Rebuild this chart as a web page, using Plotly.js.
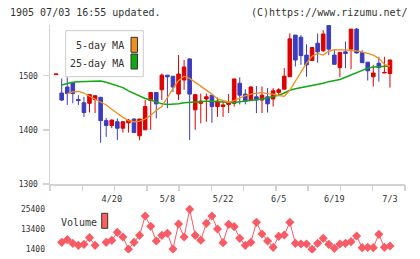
<!DOCTYPE html>
<html>
<head>
<meta charset="utf-8">
<script src="https://cdn.plot.ly/plotly-3.0.1.min.js"></script>
<style>
  html, body { margin: 0; padding: 0; background: #fff; }
  #chart { width: 420px; height: 259px; }
</style>
</head>
<body>
<div id="chart"></div>
<script>
// Trading days (2020), daily OHLC, moving averages and volume for 1905
const dates = ['4/6','4/7','4/8','4/9','4/10','4/13','4/14','4/15','4/16','4/17',
  '4/20','4/21','4/22','4/23','4/24','4/27','4/28','4/30','5/1','5/7',
  '5/8','5/11','5/12','5/13','5/14','5/15','5/18','5/19','5/20','5/21',
  '5/22','5/25','5/26','5/27','5/28','5/29','6/1','6/2','6/3','6/4',
  '6/5','6/8','6/9','6/10','6/11','6/12','6/15','6/16','6/17','6/18',
  '6/19','6/22','6/23','6/24','6/25','6/26','6/29','6/30','7/1','7/2','7/3'];

const openP  = [1502,1468,1479,1487,1456,1450,1449,1456,1460,1417,
  1408,1415,1403,1413,1420,1389,1400,1454,1469,1474,
  1501,1499,1466,1492,1531,1437,1449,1457,1464,1443,
  1443,1447,1449,1486,1466,1454,1461,1455,1461,1457,
  1469,1475,1498,1575,1571,1538,1528,1560,1546,1593,
  1538,1515,1544,1549,1586,1543,1525,1498,1523,1505,1504];
const highP  = [1503,1495,1497,1488,1464,1461,1465,1464,1461,1422,
  1419,1421,1416,1420,1421,1420,1455,1469,1469,1504,
  1501,1499,1538,1529,1532,1466,1467,1467,1464,1460,
  1455,1466,1494,1497,1475,1481,1481,1480,1477,1477,
  1477,1514,1578,1575,1575,1558,1552,1578,1584,1593,
  1549,1543,1563,1586,1588,1547,1525,1520,1535,1535,1529];
const lowP   = [1502,1453,1446,1449,1446,1424,1432,1431,1376,1387,
  1403,1381,1395,1395,1394,1381,1400,1400,1421,1455,
  1440,1470,1455,1474,1381,1400,1412,1415,1413,1424,
  1424,1431,1443,1447,1447,1454,1431,1431,1432,1443,
  1463,1475,1498,1517,1520,1498,1528,1524,1544,1538,
  1521,1497,1514,1512,1541,1524,1491,1480,1489,1505,1478];
const closeP = [1503,1455,1467,1467,1454,1432,1465,1463,1417,1408,
  1418,1403,1415,1418,1395,1420,1443,1469,1448,1501,
  1498,1479,1503,1516,1466,1465,1453,1461,1443,1453,
  1446,1450,1494,1464,1453,1479,1455,1464,1448,1472,
  1474,1499,1568,1529,1537,1520,1552,1544,1577,1549,
  1521,1543,1541,1586,1542,1524,1509,1505,1515,1506,1529];

const ma5 = [null,null,1467,1470,1471,1468,1462,1457,1452,1446,
  1438,1430,1423,1417,1415,1416,1420,1427,1436,1443,
  1460,1476,1491,1499,1495,1488,1481,1474,1466,1457,
  1454,1451,1454,1459,1463,1466,1468,1469,1467,1466,
  1463,1462,1473,1489,1506,1523,1536,1541,1538,1545,
  1548,1548,1548,1547,1546,1544,1541,1538,1532,1521,1517];
const ma25 = [null,1483,1486,1488,1489,1489,1490,1490,1490,1488,
  1485,1481,1478,1472,1467,1462,1458,1455,1451,1448,
  1447,1447,1448,1450,1451,1451,1452,1453,1453,1452,
  1451,1450,1450,1452,1453,1455,1456,1457,1459,1461,
  1464,1468,1473,1476,1478,1480,1481,1483,1486,1489,
  1491,1493,1497,1501,1506,1510,1514,1516,1517,1518,1518];

const volume = [null,5400,7000,4800,3600,4200,8200,3600,null,5400,
  6600,11400,8600,1300,5400,9600,21200,15000,6200,9600,
  10800,1400,16400,8600,25200,9600,6700,16800,21200,13400,
  5200,16200,14800,7800,3600,5400,17400,10400,6200,2400,
  9000,9800,17400,4800,4400,4400,1200,4800,7800,4200,
  1800,4400,4800,5800,9200,2200,2400,2200,10200,2400,3200];

const priceTicks = [1300, 1400, 1500];
const volumeTicks = [1400, 13400, 25400];
const dateLabels = ['4/20', '5/8', '5/22', '6/5', '6/19', '7/3'];

const UP = '#dd0000', DOWN = '#3c3cbf';
const ORANGE = '#f0901e', GREEN = '#12a812', VOL = '#fa5a64';
const AXIS = '#d2d2d2', TXT = '#333333';
const MONO = 'DejaVu Sans Mono, monospace';

// pixel helpers for the decorations
const W = 420, H = 259;
const px = x => x / W, py = y => 1 - y / H;

const traces = [
  {
    type: 'candlestick', x: dates, open: openP, high: highP, low: lowP, close: closeP,
    xaxis: 'x', yaxis: 'y',
    increasing: { line: { color: UP, width: 1 }, fillcolor: UP },
    decreasing: { line: { color: DOWN, width: 1 }, fillcolor: DOWN },
    whiskerwidth: 0, hoverinfo: 'skip', showlegend: false
  },
  {
    type: 'scatter', mode: 'lines', x: dates, y: ma25, xaxis: 'x', yaxis: 'y',
    line: { color: GREEN, width: 1.5 }, hoverinfo: 'skip', showlegend: false
  },
  {
    type: 'scatter', mode: 'lines', x: dates, y: ma5, xaxis: 'x', yaxis: 'y',
    line: { color: ORANGE, width: 1.3 }, hoverinfo: 'skip', showlegend: false
  },
  {
    type: 'scatter', mode: 'lines+markers', x: dates, y: volume, xaxis: 'x', yaxis: 'y2',
    line: { color: VOL, width: 1 }, connectgaps: false,
    marker: { symbol: 'diamond', size: 7, color: VOL },
    hoverinfo: 'skip', showlegend: false
  },
  {
    // carries the evenly spaced tick marks along the price axis
    type: 'scatter', mode: 'markers', x: [0], y: [null], xaxis: 'x3', yaxis: 'y',
    hoverinfo: 'skip', showlegend: false
  }
];

const xDomain = [px(50), px(405)];
const layout = {
  width: W, height: H,
  margin: { l: 0, r: 0, t: 0, b: 0 },
  paper_bgcolor: '#fff', plot_bgcolor: '#fff',
  showlegend: false,
  boxgap: 0.08,
  font: { family: MONO, color: TXT },
  xaxis: {
    type: 'category', domain: xDomain, anchor: 'y',
    range: [-1.1, 62.7],
    rangeslider: { visible: false },
    showline: true, linecolor: AXIS, linewidth: 1.5,
    showgrid: false, zeroline: false,
    ticks: 'outside', ticklen: 6, tickcolor: 'rgba(0,0,0,0)',
    tickvals: dateLabels, ticktext: dateLabels,
    tickfont: { family: MONO, size: 8.5, color: TXT }
  },
  xaxis3: {
    overlaying: 'x', anchor: 'y', domain: xDomain,
    range: [0, 11], tickvals: [0,1,2,3,4,5,6,7,8,9,10,11],
    showticklabels: false, ticks: 'outside', ticklen: 6, tickwidth: 1.5,
    tickcolor: AXIS, showline: false, showgrid: false, zeroline: false
  },
  yaxis: {
    domain: [py(184), py(25)], anchor: 'x',
    range: [1300, 1593.6],
    showline: true, linecolor: AXIS, linewidth: 1.5,
    showgrid: false, zeroline: false,
    ticks: 'outside', ticklen: 6, tickwidth: 1.5, tickcolor: AXIS,
    tickvals: priceTicks, ticktext: priceTicks.map(String),
    ticklabelstandoff: 3,
    tickfont: { family: MONO, size: 8, color: TXT }
  },
  yaxis2: {
    domain: [py(253), py(205)], anchor: 'x',
    range: [-1000, 27800],
    showline: false, showgrid: false, zeroline: false,
    ticks: '', tickvals: volumeTicks, ticktext: volumeTicks.map(String),
    ticklabelstandoff: 4,
    tickfont: { family: MONO, size: 8, color: TXT }
  },
  shapes: [
    // moving-average legend box
    { type: 'rect', xref: 'paper', yref: 'paper', x0: px(65.7), x1: px(143.3), y0: py(76.7), y1: py(30.7),
      line: { color: '#cccccc', width: 1 }, fillcolor: '#ffffff', layer: 'above' },
    { type: 'rect', xref: 'paper', yref: 'paper', x0: px(131), x1: px(137.5), y0: py(52.3), y1: py(37.3),
      line: { color: '#333', width: 1 }, fillcolor: ORANGE, layer: 'above' },
    { type: 'rect', xref: 'paper', yref: 'paper', x0: px(131), x1: px(137.5), y0: py(69), y1: py(54),
      line: { color: '#333', width: 1 }, fillcolor: GREEN, layer: 'above' },
    // volume legend swatch
    { type: 'rect', xref: 'paper', yref: 'paper', x0: px(101.7), x1: px(107.7), y0: py(228.3), y1: py(213.3),
      line: { color: '#333', width: 1 }, fillcolor: '#ff6060', layer: 'above' }
  ],
  annotations: [
    { text: '1905 07/03 16:55 updated.', xref: 'paper', yref: 'paper', x: px(8), y: py(12.5),
      xanchor: 'left', yanchor: 'middle', showarrow: false, font: { family: MONO, size: 10, color: TXT } },
    { text: '(C)https://www.rizumu.net/', xref: 'paper', yref: 'paper', x: px(410), y: py(12.5),
      xanchor: 'right', yanchor: 'middle', showarrow: false, font: { family: MONO, size: 10, color: TXT } },
    { text: '5-day MA', xref: 'paper', yref: 'paper', x: px(125.5), y: py(46),
      xanchor: 'right', yanchor: 'middle', showarrow: false, font: { family: MONO, size: 10, color: TXT } },
    { text: '25-day MA', xref: 'paper', yref: 'paper', x: px(125.5), y: py(63.3),
      xanchor: 'right', yanchor: 'middle', showarrow: false, font: { family: MONO, size: 10, color: TXT } },
    { text: 'Volume', xref: 'paper', yref: 'paper', x: px(58.5), y: py(222.3),
      xanchor: 'left', yanchor: 'middle', showarrow: false, font: { family: MONO, size: 10, color: TXT } }
  ]
};

Plotly.newPlot('chart', traces, layout, { staticPlot: true, displayModeBar: false });
</script>
</body>
</html>
